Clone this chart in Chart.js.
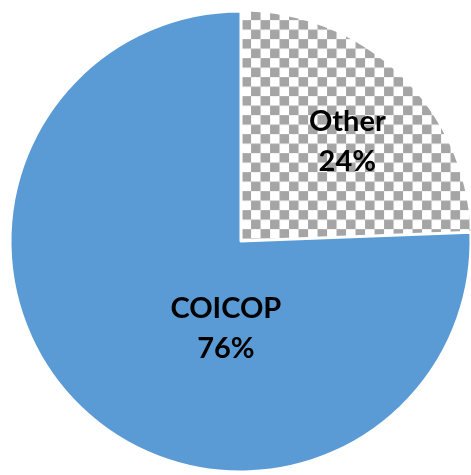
<!DOCTYPE html>
<html>
<head>
<meta charset="utf-8">
<script src="https://cdn.jsdelivr.net/npm/chart.js@4/dist/chart.umd.min.js"></script>
<style>
  html, body { margin: 0; padding: 0; background: #ffffff; overflow: hidden; }
  #wrap { position: absolute; left: 0; top: 0; width: 481px; height: 483px; }
</style>
</head>
<body>
<div id="wrap"><canvas id="c" width="481" height="483"></canvas></div>
<script>
// ---- data ----
const categories = ["Other", "COICOP"];
const shares = [24.4, 75.6];
const valueLabels = ["24%", "76%"];
const explode = [6, 0];
// label placement, polar relative to pie centre (degrees, fraction of radius)
const labelAngles = [-43, 99.5];
const labelRadii = [0.635, 0.385];

// ---- checkerboard pattern for "Other" ----
function checker() {
  const t = document.createElement('canvas');
  t.width = 19; t.height = 19;
  const g = t.getContext('2d');
  g.fillStyle = '#ffffff';
  g.fillRect(0, 0, 19, 19);
  g.fillStyle = '#a5a5a5';
  g.fillRect(9.5, 0, 9.5, 9.5);
  g.fillRect(0, 9.5, 9.5, 9.5);
  const ctx = document.getElementById('c').getContext('2d');
  const p = ctx.createPattern(t, 'repeat');
  if (p.setTransform) p.setTransform(new DOMMatrix().translate(3, 2.2));
  return p;
}

const labelPlugin = {
  id: 'sliceLabels',
  afterDatasetsDraw(chart) {
    const ctx = chart.ctx;
    const meta = chart.getDatasetMeta(0);
    ctx.save();
    ctx.font = 'bold 29px Lato, "Liberation Sans", sans-serif';
    ctx.fillStyle = '#000000';
    ctx.textAlign = 'center';
    ctx.textBaseline = 'middle';
    meta.data.forEach((arc, i) => {
      const {x, y, outerRadius} = arc.getProps(['x', 'y', 'outerRadius'], true);
      const a = labelAngles[i] * Math.PI / 180;
      const r = labelRadii[i] * outerRadius;
      const cx = x + Math.cos(a) * r;
      const cy = y + Math.sin(a) * r;
      const lh = 40;
      ctx.fillText(categories[i], cx, cy - lh / 2);
      ctx.fillText(valueLabels[i], cx, cy + lh / 2);
    });
    ctx.restore();
  }
};

new Chart(document.getElementById('c'), {
  type: 'pie',
  data: {
    labels: categories,
    datasets: [{
      data: shares,
      backgroundColor: [checker(), '#5b9bd5'],
      borderColor: '#ffffff',
      borderWidth: 2,
      offset: explode
    }]
  },
  options: {
    responsive: false,
    animation: false,
    radius: 230,
    layout: { padding: 0 },
    plugins: {
      legend: { display: false },
      tooltip: { enabled: false }
    }
  },
  plugins: [labelPlugin]
});
</script>
</body>
</html>
